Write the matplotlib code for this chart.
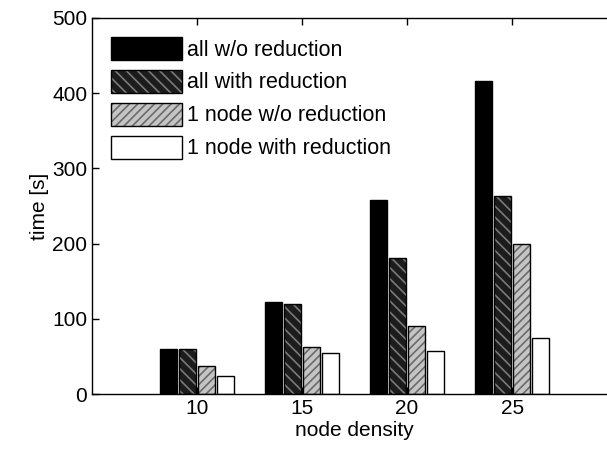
import matplotlib
matplotlib.use("Agg")
import matplotlib.pyplot as plt
from matplotlib.patches import Patch
from matplotlib.legend_handler import HandlerTuple
import numpy as np

plt.rcParams['font.family'] = ['Liberation Sans', 'DejaVu Sans']
plt.rcParams['hatch.linewidth'] = 1.2

densities = [10, 15, 20, 25]
series_names = ["all w/o reduction", "all with reduction",
                "1 node w/o reduction", "1 node with reduction"]
all_wo = [60, 122, 258, 416]
all_with = [60, 120, 181, 263]
one_wo = [37, 62, 91, 200]
one_with = [24, 55, 57, 74]
series = [all_wo, all_with, one_wo, one_with]

faces = ['black', '#1c1c1c', '#c4c4c4', 'white']
hatches = [None, '\\\\\\', '////', None]
hatch_cols = ['black', '#7a7a7a', '#6a6a6a', 'white']

fig = plt.figure(figsize=(6.07, 4.55), dpi=100)
ax = fig.add_axes([0.1516, 0.134, 0.865, 0.827])

x = np.array(densities, dtype=float)
offsets = [-1.35, -0.45, 0.45, 1.35]
width = 0.8
handles = []
for vals, off, fc, h, hc in zip(series, offsets, faces, hatches, hatch_cols):
    ax.bar(x + off, vals, width, color=fc, hatch=h, edgecolor=hc, linewidth=0)
    ax.bar(x + off, vals, width, fill=False, edgecolor='black', linewidth=1.0)
    fill = Patch(facecolor=fc, hatch=h, edgecolor=hc, linewidth=0)
    outline = Patch(fill=False, edgecolor='black', linewidth=1.0)
    handles.append((fill, outline))

ax.set_xlim(5, 30)
ax.set_ylim(0, 500)
ax.set_xticks(densities)
ax.set_yticks([0, 100, 200, 300, 400, 500])
ax.tick_params(direction='in', top=True, right=True, length=5, width=1,
               labelsize=15)
for s in ax.spines.values():
    s.set_linewidth(1.0)
ax.set_xlabel("node density", fontsize=15, labelpad=2)
ax.set_ylabel("time [s]", fontsize=15, labelpad=2)

ax.legend(handles, series_names, handler_map={tuple: HandlerTuple(ndivide=1, pad=0)},
          loc='upper left', bbox_to_anchor=(0.036, 0.95), frameon=False,
          fontsize=15.5, handlelength=3.3, handleheight=1.3, handletextpad=0.25,
          labelspacing=0.42, borderpad=0, borderaxespad=0)

fig.savefig("out.png", dpi=100)
